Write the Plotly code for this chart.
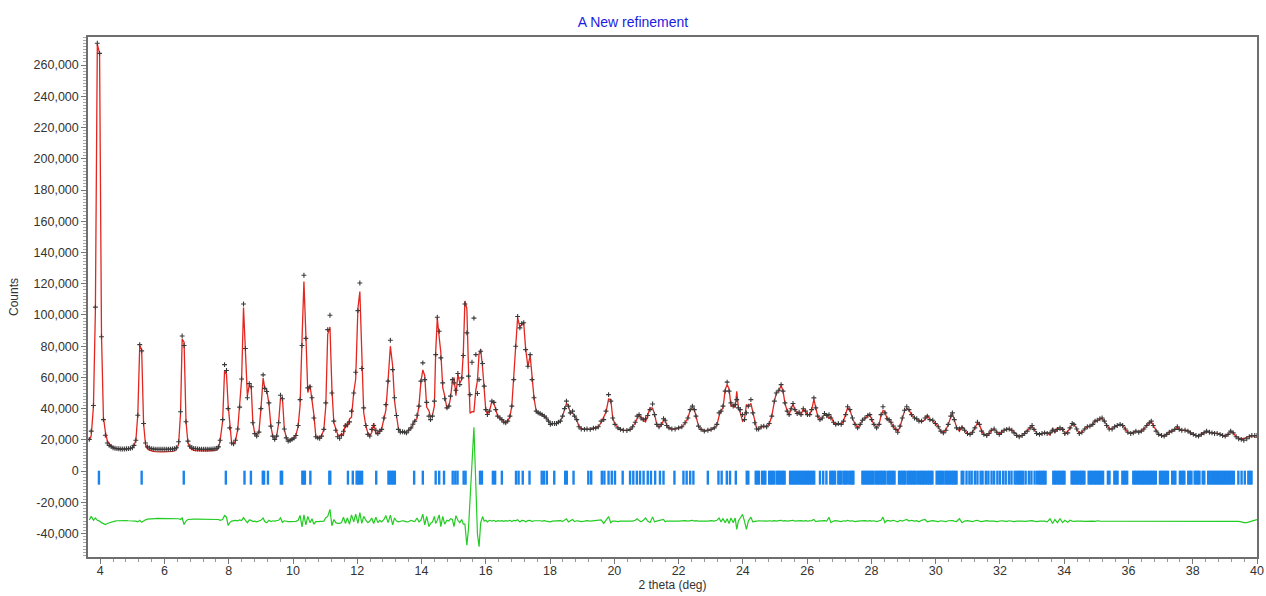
import numpy as np
import plotly.graph_objects as go

# Scan positions (deg 2-theta)
two_theta = [
    3.66, 3.72, 3.79, 3.85, 3.91, 3.98, 4.04, 4.10, 4.16, 4.22,
    4.28, 4.34, 4.40, 4.46, 4.52, 4.58, 4.64, 4.70, 4.76, 4.82,
    4.88, 4.94, 5.00, 5.05, 5.11, 5.17, 5.23, 5.29, 5.35, 5.41,
    5.47, 5.53, 5.59, 5.65, 5.71, 5.77, 5.83, 5.89, 5.95, 6.01,
    6.07, 6.13, 6.19, 6.25, 6.31, 6.37, 6.44, 6.50, 6.55, 6.61,
    6.67, 6.73, 6.79, 6.85, 6.91, 6.97, 7.03, 7.09, 7.15, 7.21,
    7.27, 7.33, 7.39, 7.45, 7.51, 7.57, 7.63, 7.68, 7.73, 7.81,
    7.87, 7.93, 7.98, 8.03, 8.09, 8.15, 8.21, 8.28, 8.34, 8.40,
    8.46, 8.52, 8.58, 8.64, 8.70, 8.75, 8.81, 8.87, 8.94, 9.00,
    9.07, 9.12, 9.18, 9.25, 9.31, 9.37, 9.43, 9.49, 9.55, 9.61,
    9.67, 9.73, 9.79, 9.85, 9.91, 9.97, 10.03, 10.09, 10.16, 10.22,
    10.28, 10.34, 10.40, 10.46, 10.53, 10.59, 10.65, 10.71, 10.77, 10.83,
    10.89, 10.96, 11.02, 11.08, 11.15, 11.21, 11.27, 11.33, 11.39, 11.45,
    11.51, 11.57, 11.63, 11.69, 11.76, 11.82, 11.89, 11.95, 12.02, 12.08,
    12.14, 12.20, 12.27, 12.33, 12.39, 12.45, 12.51, 12.58, 12.64, 12.70,
    12.76, 12.83, 12.89, 12.96, 13.03, 13.10, 13.16, 13.22, 13.28, 13.34,
    13.41, 13.47, 13.53, 13.60, 13.67, 13.73, 13.79, 13.86, 13.92, 13.98,
    14.04, 14.10, 14.16, 14.23, 14.28, 14.34, 14.40, 14.44, 14.49, 14.55,
    14.60, 14.66, 14.72, 14.79, 14.85, 14.90, 14.96, 15.01, 15.07, 15.13,
    15.19, 15.25, 15.30, 15.35, 15.41, 15.46, 15.51, 15.57, 15.63, 15.69,
    15.74, 15.79, 15.84, 15.90, 15.95, 16.00, 16.05, 16.11, 16.19, 16.25,
    16.31, 16.37, 16.44, 16.50, 16.56, 16.62, 16.68, 16.75, 16.81, 16.87,
    16.93, 16.99, 17.06, 17.12, 17.18, 17.24, 17.31, 17.38, 17.44, 17.50,
    17.57, 17.63, 17.69, 17.75, 17.82, 17.88, 17.95, 18.01, 18.07, 18.14,
    18.20, 18.26, 18.32, 18.39, 18.45, 18.51, 18.57, 18.63, 18.70, 18.76,
    18.83, 18.90, 18.97, 19.07, 19.15, 19.25, 19.35, 19.42, 19.50, 19.59,
    19.67, 19.74, 19.82, 19.89, 19.95, 20.02, 20.11, 20.19, 20.28, 20.39,
    20.49, 20.57, 20.65, 20.71, 20.77, 20.83, 20.90, 20.97, 21.04, 21.11,
    21.19, 21.25, 21.32, 21.39, 21.46, 21.53, 21.58, 21.63, 21.70, 21.79,
    21.89, 22.00, 22.10, 22.20, 22.29, 22.36, 22.43, 22.49, 22.54, 22.62,
    22.70, 22.80, 22.91, 23.01, 23.11, 23.19, 23.26, 23.32, 23.38, 23.45,
    23.51, 23.57, 23.63, 23.70, 23.76, 23.81, 23.86, 23.92, 23.99, 24.05,
    24.11, 24.17, 24.25, 24.31, 24.37, 24.43, 24.49, 24.57, 24.65, 24.74,
    24.82, 24.90, 24.98, 25.04, 25.12, 25.19, 25.25, 25.31, 25.38, 25.44,
    25.50, 25.56, 25.62, 25.69, 25.75, 25.81, 25.88, 25.95, 26.01, 26.08,
    26.14, 26.21, 26.27, 26.33, 26.40, 26.47, 26.54, 26.61, 26.68, 26.74,
    26.82, 26.89, 26.97, 27.06, 27.13, 27.20, 27.26, 27.33, 27.41, 27.49,
    27.57, 27.65, 27.72, 27.80, 27.89, 27.95, 28.01, 28.08, 28.16, 28.24,
    28.30, 28.36, 28.42, 28.49, 28.55, 28.61, 28.68, 28.76, 28.82, 28.89,
    28.96, 29.03, 29.10, 29.17, 29.25, 29.34, 29.41, 29.48, 29.56, 29.67,
    29.74, 29.82, 29.91, 29.99, 30.08, 30.16, 30.24, 30.32, 30.39, 30.47,
    30.52, 30.58, 30.65, 30.74, 30.82, 30.90, 30.99, 31.07, 31.15, 31.22,
    31.30, 31.36, 31.43, 31.50, 31.59, 31.66, 31.73, 31.82, 31.90, 31.98,
    32.05, 32.13, 32.21, 32.29, 32.37, 32.44, 32.52, 32.60, 32.69, 32.77,
    32.85, 32.94, 33.00, 33.06, 33.14, 33.23, 33.31, 33.39, 33.47, 33.56,
    33.64, 33.71, 33.79, 33.87, 33.95, 34.02, 34.11, 34.18, 34.25, 34.30,
    34.39, 34.47, 34.55, 34.64, 34.72, 34.80, 34.89, 34.96, 35.03, 35.11,
    35.18, 35.25, 35.32, 35.40, 35.49, 35.57, 35.65, 35.74, 35.82, 35.90,
    35.98, 36.07, 36.15, 36.23, 36.32, 36.40, 36.48, 36.57, 36.65, 36.71,
    36.77, 36.86, 36.94, 37.03, 37.11, 37.19, 37.27, 37.35, 37.44, 37.52,
    37.58, 37.66, 37.76, 37.85, 37.93, 38.02, 38.10, 38.18, 38.27, 38.35,
    38.43, 38.52, 38.60, 38.68, 38.76, 38.85, 38.93, 39.01, 39.10, 39.18,
    39.26, 39.35, 39.43, 39.51, 39.59, 39.68, 39.76, 39.84, 39.93, 40.00,
]

# Observed intensity (thousands of counts)
obs_k = [
    20.3, 25.6, 42.0, 105.0, 274.0, 267.5, 86.0, 33.0, 23.0, 18.0,
    16.5, 15.8, 15.0, 14.6, 14.4, 14.3, 14.2, 14.2, 14.2, 14.3,
    14.4, 14.6, 15.0, 16.5, 19.8, 35.8, 81.0, 77.0, 30.5, 18.0,
    15.5, 14.8, 14.4, 14.2, 14.1, 14.0, 14.0, 14.0, 14.0, 14.0,
    14.0, 14.1, 14.1, 14.2, 14.4, 15.0, 18.8, 38.0, 86.5, 80.4,
    31.6, 19.2, 16.0, 15.0, 14.5, 14.3, 14.2, 14.1, 14.0, 14.0,
    14.0, 14.0, 14.1, 14.1, 14.2, 14.3, 14.6, 15.5, 19.8, 33.0,
    68.2, 64.4, 40.0, 27.7, 18.0, 17.5, 19.8, 27.0, 41.0, 59.0,
    107.0, 78.5, 47.0, 56.0, 54.0, 31.0, 24.0, 22.4, 25.0, 40.0,
    61.6, 53.0, 51.0, 43.7, 28.8, 22.4, 20.3, 22.4, 31.0, 48.6,
    46.3, 27.0, 21.3, 19.2, 19.6, 20.3, 21.1, 22.8, 29.2, 45.8,
    80.4, 125.4, 85.0, 53.3, 54.0, 47.0, 34.0, 22.0, 21.3, 21.0,
    22.4, 26.7, 43.7, 90.6, 99.8, 50.0, 32.0, 26.2, 22.0, 21.0,
    23.0, 25.5, 29.0, 30.0, 31.5, 38.4, 50.0, 63.3, 102.8, 120.5,
    65.7, 40.5, 29.2, 23.5, 22.5, 26.7, 29.2, 26.2, 24.0, 25.6,
    26.7, 34.0, 42.6, 57.6, 83.8, 65.0, 47.0, 35.6, 26.7, 25.0,
    25.2, 25.0, 24.5, 26.2, 27.7, 30.0, 32.0, 35.8, 41.6, 57.6,
    69.3, 58.6, 44.0, 35.2, 33.0, 35.2, 44.8, 74.6, 98.5, 89.6,
    72.5, 56.5, 46.3, 40.5, 41.6, 48.0, 58.6, 56.5, 51.8, 62.5,
    55.4, 59.7, 74.0, 107.0, 88.5, 60.8, 49.0, 69.7, 98.0, 74.6,
    49.7, 58.6, 76.8, 68.9, 54.4, 39.4, 36.3, 38.4, 44.8, 44.0,
    39.4, 35.2, 34.0, 33.0, 31.4, 31.0, 32.0, 35.2, 41.6, 58.6,
    80.0, 99.0, 91.7, 94.5, 95.0, 77.8, 67.2, 74.6, 58.6, 47.0,
    38.4, 37.3, 36.9, 36.2, 35.2, 34.0, 32.0, 29.9, 30.5, 30.5,
    30.5, 31.4, 32.0, 35.2, 40.0, 44.8, 41.6, 37.3, 38.4, 35.2,
    33.0, 28.4, 27.0, 26.7, 27.0, 26.7, 27.5, 27.5, 28.4, 32.0,
    33.0, 38.4, 49.0, 44.8, 34.0, 29.9, 27.7, 26.7, 26.2, 26.0,
    26.7, 28.4, 31.3, 35.2, 36.2, 34.0, 33.0, 33.5, 35.6, 39.4,
    43.0, 36.2, 29.9, 28.4, 29.9, 33.5, 32.6, 29.2, 27.7, 27.0,
    27.0, 27.7, 28.4, 31.0, 34.0, 39.4, 41.6, 39.4, 35.2, 28.8,
    26.7, 25.6, 26.2, 26.7, 27.7, 29.9, 37.3, 38.4, 41.6, 51.2,
    57.0, 51.2, 43.7, 41.6, 42.6, 45.8, 40.5, 39.4, 36.2, 33.0,
    37.3, 41.6, 45.8, 37.3, 31.0, 27.0, 27.0, 28.4, 28.8, 28.4,
    30.5, 35.2, 44.8, 50.0, 51.8, 55.4, 51.2, 43.7, 38.4, 36.2,
    39.9, 43.3, 39.4, 36.9, 37.7, 36.2, 39.9, 38.4, 36.2, 36.2,
    39.4, 46.9, 40.5, 35.2, 33.0, 34.0, 36.9, 35.6, 36.2, 34.0,
    31.3, 29.9, 30.5, 29.9, 32.0, 36.2, 41.2, 39.4, 34.0, 29.9,
    27.7, 29.9, 32.6, 34.0, 35.6, 36.2, 33.0, 29.9, 27.7, 29.9,
    36.2, 41.2, 37.3, 33.5, 33.0, 31.3, 28.8, 26.7, 24.9, 28.8,
    34.0, 39.0, 41.2, 39.4, 36.2, 34.0, 33.5, 32.0, 32.0, 34.0,
    35.2, 33.0, 32.6, 30.5, 28.4, 25.6, 24.5, 26.2, 29.9, 35.2,
    37.3, 33.0, 27.7, 27.0, 27.7, 26.2, 24.1, 23.5, 24.9, 27.7,
    31.3, 29.9, 25.6, 23.5, 22.8, 24.1, 26.2, 27.0, 24.9, 23.5,
    24.9, 26.2, 26.7, 27.0, 26.2, 24.5, 22.8, 22.0, 22.8, 24.1,
    25.6, 27.7, 29.2, 26.7, 24.1, 23.5, 24.1, 24.5, 24.1, 24.5,
    26.2, 25.6, 26.7, 27.7, 26.7, 24.1, 24.5, 27.7, 30.5, 29.9,
    27.0, 24.1, 24.9, 27.0, 28.4, 28.8, 29.9, 32.0, 32.6, 33.5,
    34.0, 32.0, 29.2, 27.0, 27.0, 28.4, 29.2, 29.9, 29.2, 27.0,
    24.9, 24.1, 24.5, 25.6, 24.9, 25.6, 27.0, 29.2, 30.9, 32.0,
    29.2, 25.6, 23.5, 22.8, 22.4, 23.5, 24.9, 25.6, 26.7, 28.4,
    26.7, 26.2, 26.2, 25.6, 24.5, 23.5, 22.8, 22.4, 23.5, 24.5,
    25.6, 24.9, 24.5, 24.1, 24.1, 23.5, 22.8, 22.4, 23.5, 25.6,
    24.5, 22.0, 20.7, 20.3, 19.8, 20.7, 22.0, 22.8, 22.8, 22.8,
]

# Observed minus calculated (thousands of counts)
diff_k = [
    0.7, 3.0, 0.5, 2.0, 0.5, 0.0, -1.0, -1.5, -2.2, -1.5,
    -1.0, -0.5, 0.0, 0.0, 0.2, 0.3, 0.3, 0.3, 0.3, 0.3,
    0.2, 0.2, 0.2, 0.2, 0.0, -0.5, 0.5, -0.8, 0.3, 0.8,
    1.2, 1.4, 1.5, 1.5, 1.6, 1.7, 1.7, 1.7, 1.7, 1.7,
    1.7, 1.6, 1.6, 1.5, 1.5, 1.3, 1.5, 1.0, 2.0, -2.2,
    0.0, 1.0, 1.2, 1.2, 1.2, 1.2, 1.2, 1.2, 1.2, 1.2,
    1.1, 1.1, 1.1, 1.1, 1.0, 1.0, 1.0, 1.0, 0.5, 1.0,
    3.6, 2.5, -2.8, -1.0, 0.0, 0.2, 0.5, 0.2, 0.8, 0.3,
    2.2, 0.5, -1.0, 0.8, 0.5, -0.3, 0.0, -0.5, 0.0, 0.5,
    2.0, -0.3, -1.0, 0.5, -0.3, 0.2, 0.0, 0.3, 0.5, 2.0,
    -0.8, 0.2, -0.3, -0.3, -0.3, -0.3, -0.3, -0.2, 0.5, 3.6,
    -3.8, 4.0, -2.5, 3.0, -1.0, 1.5, -2.0, -0.3, -0.3, -0.3,
    -0.3, 0.0, 2.2, 3.0, 7.5, -3.0, 1.0, -1.0, -1.5, -1.5,
    -1.0, 2.5, -1.5, 2.0, -2.0, 4.0, -0.5, 4.5, -1.5, 5.5,
    -1.5, 3.0, 0.5, -1.0, 0.0, 2.0, -1.5, 2.5, -1.0, 0.5,
    -0.5, 1.0, 3.5, -1.0, 3.8, -2.5, 2.0, 0.0, -0.5, -0.2,
    0.2, 0.0, -0.5, -0.3, 0.5, 0.0, -0.3, 2.0, -0.5, 0.5,
    4.5, -2.5, 3.0, -3.5, -1.5, -0.5, 3.0, -1.5, 0.5, 4.0,
    -3.5, 3.0, -2.0, 0.5, 0.0, 1.5, 1.0, -3.5, 3.5, 0.5,
    -1.0, 1.0, -2.0, -2.0, -15.5, -5.2, 12.0, 31.7, 60.0, 22.6,
    -8.3, -16.4, -1.2, 2.9, 0.0, 0.5, -0.5, 0.5, 0.0, 0.5,
    -0.3, 0.3, 0.0, 0.3, -0.2, 0.3, 0.0, 0.5, -0.3, 0.5,
    0.2, 0.8, -0.5, 0.5, 0.3, -0.5, 0.3, 0.5, -0.3, 0.2,
    0.3, 0.0, 0.2, 0.0, 0.3, 0.0, -0.2, -0.5, 0.0, 0.0,
    0.2, 0.0, 0.3, -0.2, 0.5, 1.5, -0.5, 0.3, 1.0, -0.3,
    0.2, 0.0, -0.3, 0.0, 0.3, 0.0, 0.2, 0.0, 0.3, 0.8,
    -1.5, 0.8, 2.9, -1.0, 0.0, 0.0, -0.3, 0.0, 0.0, 0.0,
    0.3, 0.0, 0.5, 1.5, 0.3, -0.5, 0.5, 2.0, 0.0, -1.0,
    2.7, -0.5, 0.0, 0.2, 0.5, 1.0, -0.5, 0.0, 0.0, 0.2,
    0.0, 0.0, 0.2, 0.3, 0.0, 0.5, 0.5, 0.0, 0.3, 0.0,
    0.0, -0.2, 0.0, 0.3, 0.0, 0.5, 2.0, -0.5, 1.5, -1.0,
    1.5, -1.5, 2.0, -1.0, 2.0, -5.3, 0.0, 2.0, 4.3, 0.0,
    -5.3, 0.0, 2.5, -0.5, 0.0, 0.0, 0.2, 0.0, 0.2, 0.0,
    0.2, 0.0, 0.3, 0.0, 0.3, 0.5, 0.0, 0.3, 0.0, 0.2,
    0.0, 0.5, 0.0, 0.2, 0.0, 0.3, 0.0, 0.3, 0.0, 0.0,
    0.3, 1.0, -0.3, 0.0, 0.2, 0.0, 0.3, 0.0, 2.5, -1.0,
    0.0, 0.3, 0.0, -0.3, 0.2, 0.0, 0.5, 0.0, 0.2, -0.3,
    0.0, 0.2, 0.0, 0.3, 0.0, 0.3, 0.0, 0.2, -0.3, 0.0,
    0.5, 2.5, -1.0, 0.5, 0.3, 0.0, 0.5, 0.0, -0.5, 0.5,
    0.0, 0.5, 1.0, 0.0, 0.5, 0.0, 0.3, -0.5, 0.5, 1.0,
    -0.5, 0.0, 0.3, 0.0, -0.3, 0.2, 0.0, -0.3, 0.2, 0.5,
    0.3, 0.0, -0.3, 1.5, -1.0, 0.0, 0.3, 0.0, -0.3, 0.2,
    0.5, 0.0, -0.3, 0.0, 0.3, 0.0, 0.2, 0.0, -0.3, 0.0,
    0.2, 0.0, -0.2, 0.2, 0.0, -0.3, 0.0, 0.2, 0.0, -0.2,
    0.0, 0.3, 0.3, 0.0, -0.3, 0.0, 0.2, 0.0, -0.5, 1.5,
    -1.5, 1.0, -1.0, 1.5, -1.0, 0.5, -0.8, 0.5, 0.0, -0.2,
    0.0, 0.2, 0.0, -0.2, 0.0, 0.2, 0.0, -0.2, 0.2, 0.0,
    0.0, 0.2, 0.0, -0.2, 0.0, 0.0, 0.2, 0.0, -0.2, 0.0,
    0.2, 0.0, -0.2, 0.0, 0.2, 0.0, 0.0, -0.2, 0.0, 0.2,
    0.0, -0.2, 0.0, 0.2, 0.0, 0.0, -0.2, 0.0, 0.2, 0.0,
    0.0, 0.2, 0.0, -0.2, 0.0, 0.0, 0.2, 0.0, -0.2, 0.0,
    0.0, 0.2, 0.0, 0.0, -0.2, 0.0, 0.0, 0.2, 0.0, 0.0,
    0.0, 0.0, -0.2, -0.5, -1.0, -1.0, -0.5, 0.0, 1.0, 1.0,
]

# Bragg reflection positions (deg 2-theta)
reflections = [
    3.96, 5.29, 6.60, 7.91, 8.49, 8.69, 9.06, 9.10, 9.22, 9.62, 9.66,
    10.29, 10.33, 10.37, 10.54, 11.13, 11.16, 11.71, 11.86, 11.98, 12.03,
    12.08, 12.15, 12.59, 12.97, 13.02, 13.07, 13.12, 13.17, 13.77, 14.04,
    14.44, 14.55, 14.70, 14.97, 15.05, 15.12, 15.31, 15.37, 15.82, 15.88,
    16.22, 16.29, 16.50, 16.94, 17.02, 17.15, 17.36, 17.74, 17.81, 17.90,
    18.13, 18.47, 18.52, 18.73, 19.19, 19.28, 19.61, 19.69, 19.82, 19.92,
    20.02, 20.26, 20.49, 20.59, 20.70, 20.80, 20.91, 21.04, 21.14, 21.27,
    21.42, 21.53, 21.87, 22.15, 22.25, 22.36, 22.46, 22.91, 23.24, 23.34,
    23.50, 23.60, 23.78, 24.12, 24.17,
    24.40, 24.45, 24.50, 24.60, 24.65, 24.70, 24.82, 24.87, 24.92, 24.97,
    25.05, 25.10, 25.15, 25.20, 25.25, 25.30,
    25.47, 25.52, 25.57, 25.62, 25.67, 25.72, 25.77, 25.82, 25.87, 25.92,
    25.97, 26.02, 26.07, 26.12, 26.17, 26.22,
    26.40, 26.50, 26.60, 26.72, 26.77, 26.82, 26.87,
    26.97, 27.02, 27.07, 27.14, 27.19, 27.24, 27.31, 27.36, 27.41, 27.44,
    27.72, 27.77, 27.82, 27.87, 27.92, 27.97, 28.02, 28.07, 28.14, 28.19,
    28.24, 28.29, 28.34, 28.39, 28.44, 28.52, 28.57, 28.62, 28.67, 28.72,
    28.86, 28.91, 28.96, 29.01, 29.06, 29.13, 29.18, 29.23, 29.28, 29.33,
    29.38, 29.45, 29.50, 29.55, 29.60, 29.65, 29.70, 29.75, 29.80, 29.85,
    29.90, 30.03, 30.08, 30.13, 30.18, 30.23, 30.30, 30.35, 30.40, 30.45,
    30.50, 30.55, 30.60, 30.65, 30.81, 30.86, 30.96, 31.05,
    31.12, 31.22, 31.30, 31.40, 31.46, 31.56, 31.64, 31.74, 31.82, 31.92,
    32.00, 32.10, 32.18, 32.28, 32.36, 32.46, 32.52, 32.57, 32.62, 32.67,
    32.72, 32.80, 32.90, 32.98, 33.08, 33.16, 33.22, 33.27, 33.32, 33.37,
    33.42, 33.66, 33.71, 33.76, 33.81, 33.86, 33.91, 33.96, 34.01,
    34.23, 34.28, 34.33, 34.38, 34.43, 34.48, 34.53, 34.58, 34.63, 34.76,
    34.81, 34.86, 34.91, 34.96, 35.01, 35.06, 35.11, 35.16, 35.21, 35.36,
    35.41, 35.56, 35.61, 35.66, 35.81, 35.86, 35.91, 35.96,
    36.15, 36.20, 36.25, 36.30, 36.35, 36.40, 36.45, 36.50, 36.55, 36.60,
    36.65, 36.70, 36.75, 36.80, 36.85, 36.98, 37.03, 37.08, 37.13, 37.18,
    37.23, 37.36, 37.41, 37.46, 37.60, 37.65, 37.70, 37.74, 37.86, 37.91,
    37.96, 38.06, 38.11, 38.16, 38.21, 38.31, 38.36,
    38.48, 38.53, 38.58, 38.63, 38.68, 38.73, 38.78, 38.83, 38.88, 38.93,
    38.98, 39.03, 39.08, 39.13, 39.18, 39.23, 39.28, 39.42, 39.52, 39.62,
    39.73, 39.78, 39.83,
]

x_tick_values = [4, 6, 8, 10, 12, 14, 16, 18, 20, 22, 24, 26, 28, 30, 32, 34, 36, 38, 40]
y_tick_values = [-40000, -20000, 0, 20000, 40000, 60000, 80000, 100000, 120000,
                 140000, 160000, 180000, 200000, 220000, 240000, 260000]
y_tick_labels = ["-40,000", "-20,000", "0", "20,000", "40,000", "60,000", "80,000",
                 "100,000", "120,000", "140,000", "160,000", "180,000", "200,000",
                 "220,000", "240,000", "260,000"]

DIFF_OFFSET = -32000      # baseline of the difference curve
REFL_LEVEL = -4200        # vertical position of the reflection markers

assert len(two_theta) == len(obs_k) == len(diff_k)

y_obs = np.array(obs_k) * 1000.0
y_diff = np.array(diff_k) * 1000.0
y_calc = y_obs - y_diff

fig = go.Figure()

fig.add_trace(go.Scatter(
    x=two_theta, y=y_diff + DIFF_OFFSET, mode="lines",
    line=dict(color="#22cc22", width=1.2), name="Difference",
))
fig.add_trace(go.Scatter(
    x=reflections, y=[REFL_LEVEL] * len(reflections), mode="markers",
    marker=dict(symbol="line-ns", size=10, line=dict(width=2.4, color="#1a84ec")),
    name="Reflections",
))
fig.add_trace(go.Scatter(
    x=two_theta, y=y_calc, mode="lines",
    line=dict(color="#e3261f", width=1.3), name="Calculated",
))
fig.add_trace(go.Scatter(
    x=two_theta, y=y_obs, mode="markers",
    marker=dict(symbol="cross-thin", size=3.5, line=dict(width=1.1, color="#3a3a3a")),
    name="Observed",
))

axis_font = dict(family="Liberation Sans, Arial, sans-serif", size=12.5, color="#333333")

fig.update_layout(
    width=1266, height=596,
    margin=dict(l=88, r=9, t=37, b=39, autoexpand=False),
    paper_bgcolor="white", plot_bgcolor="white",
    showlegend=False,
    title=dict(
        text="A New refinement", x=0.5, xanchor="center", y=0.963, yanchor="middle",
        font=dict(family="Liberation Sans, Arial, sans-serif", size=14, color="#1c1ce0"),
    ),
    font=axis_font,
)

fig.update_xaxes(
    range=[3.62, 40.0], tickmode="array", tickvals=x_tick_values,
    ticks="outside", ticklen=5, tickcolor="#777777", tickfont=axis_font,
    ticklabelstandoff=-4, automargin=False,
    showline=True, mirror=True, linecolor="#6e6e6e", linewidth=1.5,
    showgrid=False, zeroline=False,
    minor=dict(dtick=0.4, tick0=0, ticks="outside", ticklen=3, tickcolor="#999999"),
    title=dict(text="2 theta (deg)", font=dict(size=12, color="#333333"), standoff=4),
)
fig.update_yaxes(
    range=[-55000, 278000], tickmode="array", tickvals=y_tick_values, ticktext=y_tick_labels,
    ticks="outside", ticklen=5, tickcolor="#777777", tickfont=axis_font,
    automargin=False,
    showline=True, mirror=True, linecolor="#6e6e6e", linewidth=1.5,
    showgrid=False, zeroline=False,
    minor=dict(dtick=2000, tick0=0, ticks="outside", ticklen=3, tickcolor="#aaaaaa"),
    title=dict(text="Counts", font=dict(size=12, color="#333333"), standoff=12),
)

fig.write_html("out.html")
